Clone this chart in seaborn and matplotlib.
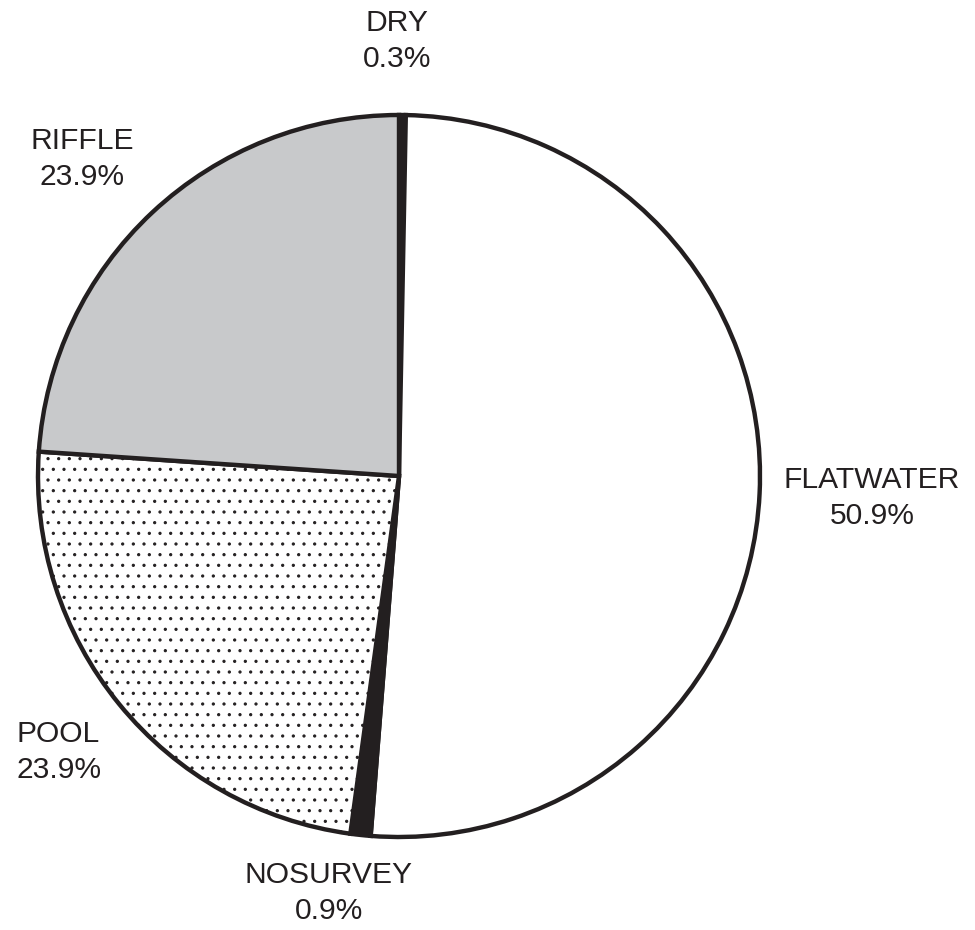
import matplotlib
matplotlib.use("Agg")
import matplotlib.pyplot as plt
import seaborn as sns

DPI = 64
W_PX, H_PX = 975, 930


def px_to_pt(px):
    return px * 72.0 / DPI


sns.set_theme(style="white")
plt.rcParams["font.family"] = ["Liberation Sans", "DejaVu Sans"]
plt.rcParams["hatch.linewidth"] = px_to_pt(1.1)
plt.rcParams["hatch.color"] = "#231f20"

# Habitat shares, clockwise from twelve o'clock
categories = ["DRY", "FLATWATER", "NOSURVEY", "POOL", "RIFFLE"]
shares = [0.3, 50.9, 0.9, 23.9, 23.9]
pct_labels = ["0.3%", "50.9%", "0.9%", "23.9%", "23.9%"]

colors = ["#231f20", "#ffffff", "#231f20", "#ffffff", "#c8c9cb"]
hatches = [None, None, None, ".", None]

# label anchor points (in pie radii)
label_pos = {
    "DRY": (-0.006, 1.205),
    "FLATWATER": (1.310, -0.061),
    "NOSURVEY": (-0.194, -1.155),
    "POOL": (-0.943, -0.765),
    "RIFFLE": (-0.878, 0.878),
}

fig = plt.figure(figsize=(W_PX / DPI, H_PX / DPI), dpi=DPI)
ax = fig.add_axes([38 / W_PX, 93 / H_PX, 722 / W_PX, 722 / H_PX])

wedges, _ = ax.pie(
    shares,
    colors=colors,
    startangle=90,
    counterclock=False,
    radius=1.0,
    wedgeprops=dict(edgecolor="#231f20", linewidth=px_to_pt(4.4)),
)
for w, h in zip(wedges, hatches):
    if h:
        w.set_hatch(h)

for cat, pct in zip(categories, pct_labels):
    x, y = label_pos[cat]
    ax.text(x, y, f"{cat}\n{pct}", ha="center", va="center",
            fontsize=px_to_pt(30), color="#231f20", linespacing=1.35,
            clip_on=False)

ax.set_xlim(-1, 1)
ax.set_ylim(-1, 1)
ax.set_aspect("equal")
ax.axis("off")

fig.savefig("out.png", dpi=DPI, facecolor="white")
